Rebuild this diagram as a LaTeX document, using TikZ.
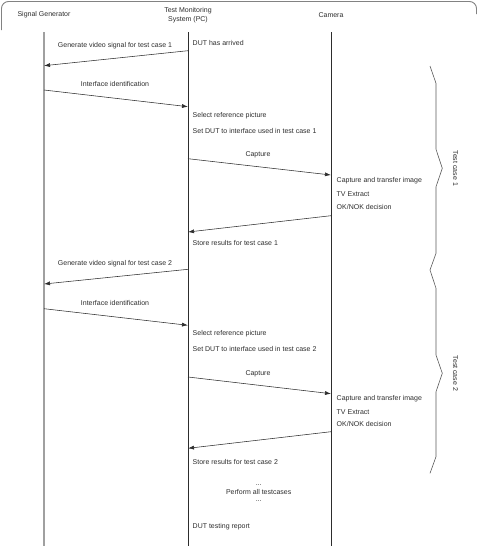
\documentclass[tikz,border=0pt]{standalone}
\usepackage{fontspec}
\setmainfont{Liberation Sans}
\usetikzlibrary{arrows.meta,positioning}
\definecolor{lnblack}{RGB}{45,45,45}
\definecolor{sggray}{RGB}{160,160,160}
\definecolor{frgray}{RGB}{130,130,130}
\definecolor{brgray}{RGB}{90,90,90}
\tikzset{
  every node/.style={font=\fontsize{7}{8.6}\selectfont, text=lnblack},
  head/.style={align=center, inner sep=0pt},
  lifeline/.style={lnblack, line width=0.55pt},
  sgline/.style={sggray, line width=1.2pt},
  msg/.style={-{Latex[length=6pt,width=4pt]}, lnblack, line width=0.55pt},
  mlab/.style={inner sep=0pt},
  note/.style={anchor=west, inner sep=0pt},
  brc/.style={brgray, line width=0.6pt, line join=miter},
  frame/.style={frgray, line width=0.9pt, rounded corners=7pt},
}

\begin{document}
\begin{tikzpicture}[x=1pt,y=-1pt]
\useasboundingbox (0,0) rectangle (478,546);
\draw[frame] (1.5,30) -- (1.5,1.5) -- (476.5,1.5) -- (476.5,14);
% heads and lifelines
\node[head] (sg) at (44,15) {Signal Generator};
\node[head] (pc) at (188,15) {Test Monitoring\\System (PC)};
\node[head] (cam) at (331,15) {Camera};
\coordinate (sgtop) at (44,32);  \coordinate (sgbot) at (44,546);
\coordinate (pctop) at (188,32); \coordinate (pcbot) at (188,546);
\coordinate (camtop) at (331,32); \coordinate (cambot) at (331,546);
\draw[sgline] (sgtop) -- (sgbot);
\draw[lifeline] (pctop) -- (pcbot);
\draw[lifeline] (camtop) -- (cambot);
% test case 1
\node[note] (arr1) at (192.5,43) {DUT has arrived};
\coordinate (g1s) at (188,50.7); \coordinate (g1e) at (44,65.7);
\draw[msg] (g1s) -- (g1e);
\node[mlab] (g1l) at (115,45.7) {Generate video signal for test case 1};
\coordinate (i1s) at (44,90); \coordinate (i1e) at (188,106.7);
\draw[msg] (i1s) -- (i1e);
\node[mlab] (i1l) at (115,84.3) {Interface identification};
\node[note] (sel1) at (192.5,115.7) {Select reference picture};
\node[note] (set1) at (192.5,131) {Set DUT to interface used in test case 1};
\coordinate (c1s) at (188,158.7); \coordinate (c1e) at (331,175);
\draw[msg] (c1s) -- (c1e);
\node[mlab] (c1l) at (258,154.3) {Capture};
\node[note] (cap1) at (336.5,180.3) {Capture and transfer image};
\node[note] (tv1) at (336.5,194) {TV Extract};
\node[note] (ok1) at (336.5,207.3) {OK/NOK decision};
\coordinate (r1s) at (331,215.7); \coordinate (r1e) at (188,232);
\draw[msg] (r1s) -- (r1e);
\node[note] (st1) at (192.5,243.3) {Store results for test case 1};
% test case 2
\coordinate (g2s) at (188,269.3); \coordinate (g2e) at (44,284);
\draw[msg] (g2s) -- (g2e);
\node[mlab] (g2l) at (115,264) {Generate video signal for test case 2};
\coordinate (i2s) at (44,308.7); \coordinate (i2e) at (188,325.3);
\draw[msg] (i2s) -- (i2e);
\node[mlab] (i2l) at (115,303.3) {Interface identification};
\node[note] (sel2) at (192.5,333.7) {Select reference picture};
\node[note] (set2) at (192.5,349.3) {Set DUT to interface used in test case 2};
\coordinate (c2s) at (188,377); \coordinate (c2e) at (331,393.7);
\draw[msg] (c2s) -- (c2e);
\node[mlab] (c2l) at (258,373.3) {Capture};
\node[note] (cap2) at (336.5,398.7) {Capture and transfer image};
\node[note] (tv2) at (336.5,412.3) {TV Extract};
\node[note] (ok2) at (336.5,424.3) {OK/NOK decision};
\coordinate (r2s) at (331,431.7); \coordinate (r2e) at (188,448.3);
\draw[msg] (r2s) -- (r2e);
\node[note] (st2) at (192.5,461.7) {Store results for test case 2};
% remaining cases
\node[mlab] (dots1) at (258.7,485) {...};
\node[mlab] (perf) at (258.7,492.3) {Perform all testcases};
\node[mlab] (dots2) at (258.7,501.5) {...};
\node[note] (rep) at (192.5,526.7) {DUT testing report};
% braces
\draw[brc] (430,66) -- (436,83.3) -- (436,149.3) -- (442.3,168.3) -- (436,186.7)
  -- (436,253.3) -- (430,270) -- (436,288.3) -- (436,355) -- (442.3,373.3)
  -- (436,391.7) -- (436,456.7) -- (430,473.3);
\node[mlab, rotate=-90] (tc1) at (455.5,168.3) {Test case 1};
\node[mlab, rotate=-90] (tc2) at (455.5,373.3) {Test case 2};
\end{tikzpicture}
\end{document}
